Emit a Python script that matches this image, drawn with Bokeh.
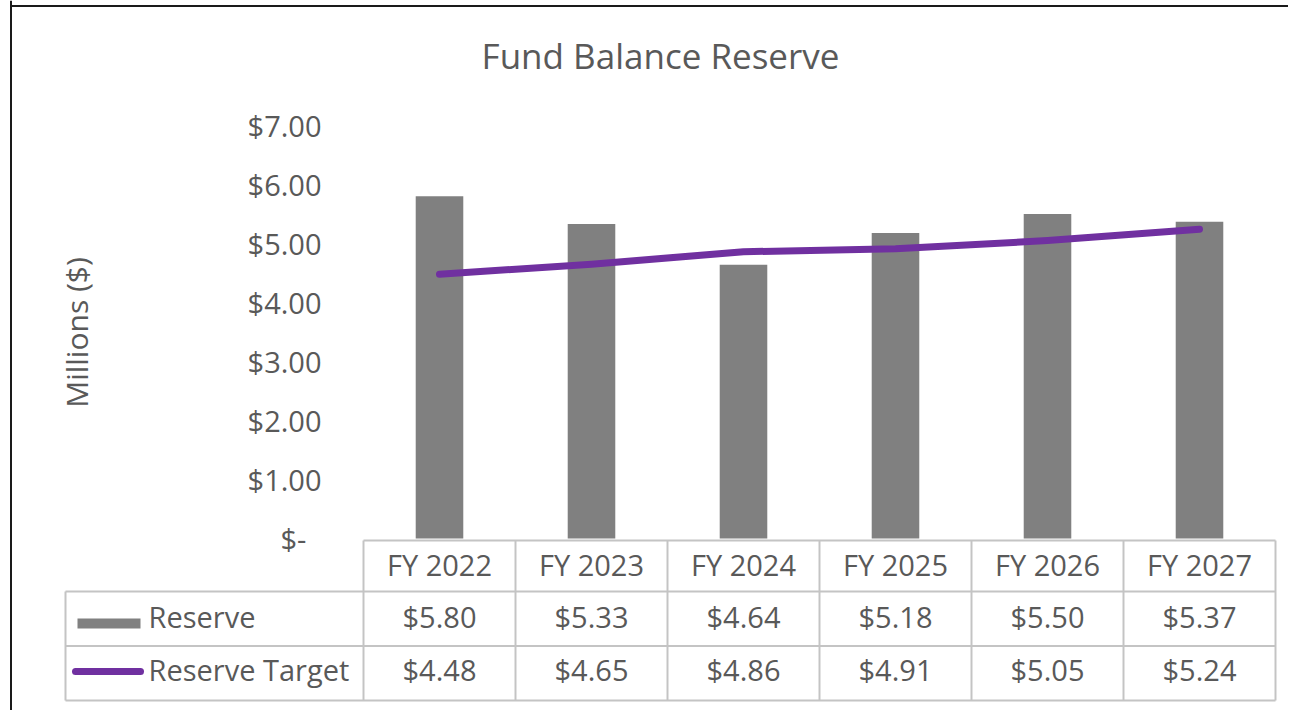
import math
from bokeh.plotting import figure
from bokeh.models import (Range1d, LinearAxis, FixedTicker, NumeralTickFormatter,
                          Span, ColumnDataSource)
from bokeh.core.properties import value
from bokeh.embed import file_html
from bokeh.resources import INLINE

# ---------------- data ----------------
categories = ["FY 2022", "FY 2023", "FY 2024", "FY 2025", "FY 2026", "FY 2027"]
reserve = [5.80, 5.33, 4.64, 5.18, 5.50, 5.37]
reserve_target = [4.48, 4.65, 4.86, 4.91, 5.05, 5.24]
series_names = ["Reserve", "Reserve Target"]
y_ticks = [0, 1, 2, 3, 4, 5, 6, 7]
chart_title = "Fund Balance Reserve"
y_title = "Millions ($)"

# ---------------- layout (page pixels) ----------------
W, H = 1288, 710
PX0, PY0 = 0, 0            # where the figure lands on the page
COL_X0, COL_W = 363, 152   # first category column left edge / width
ZERO_Y, UNIT_PX = 538, 59  # y pixel of value 0 / pixels per unit

def X(px):
    return (px - COL_X0) / COL_W

def Y(py):
    return (ZERO_Y - py) / UNIT_PX

FONT = value("Open Sans")
TXT = "#595959"
GRID = "#c4c4c4"
BAR = "#808080"
PURPLE = "#7030a0"

p = figure(width=W, height=H, output_backend="svg", toolbar_location=None,
           x_range=Range1d(X(PX0), X(PX0 + W)),
           y_range=Range1d(Y(PY0 + H), Y(PY0)),
           x_axis_type=None, y_axis_type=None, min_border=0,
           outline_line_color=None, background_fill_color="white",
           border_fill_color="white")

# y axis drawn at the left edge of the category columns
yaxis = LinearAxis(fixed_location=0, ticker=FixedTicker(ticks=y_ticks),
                   formatter=NumeralTickFormatter(format="$0.00"),
                   major_label_overrides={0: "$-\u00a0\u00a0"},
                   axis_line_color=None, major_tick_line_color=None,
                   minor_tick_line_color=None, major_tick_out=0, major_tick_in=0,
                   major_label_standoff=42,
                   major_label_text_font="Open Sans",
                   major_label_text_font_size="29px",
                   major_label_text_color=TXT)
p.add_layout(yaxis, "left")

n = len(categories)
xs = [i + 0.5 for i in range(n)]
src = ColumnDataSource(dict(
    x=xs, cat=categories, reserve=reserve, target=reserve_target,
    r_lbl=["${:.2f}".format(v) for v in reserve],
    t_lbl=["${:.2f}".format(v) for v in reserve_target],
))

# bars and target line
p.vbar(x="x", top="reserve", bottom=0, width=0.313, source=src,
       fill_color=BAR, line_color=None)
p.line(x="x", y="target", source=src, line_color=PURPLE, line_width=7,
       line_cap="round", line_join="round")

# ---------------- data table ----------------
LEG_X = X(65)
y_head_top, y_head_bot = Y(540), Y(591)
y_r1_bot, y_r2_bot = Y(645.5), Y(700)

x0s, y0s, x1s, y1s = [], [], [], []
# horizontal
x0s += [0, LEG_X, LEG_X, LEG_X]
x1s += [n, n, n, n]
y0s += [y_head_top, y_head_bot, y_r1_bot, y_r2_bot]
y1s += [y_head_top, y_head_bot, y_r1_bot, y_r2_bot]
# vertical
x0s.append(LEG_X); x1s.append(LEG_X); y0s.append(y_head_bot); y1s.append(y_r2_bot)
for k in range(n + 1):
    x0s.append(k); x1s.append(k); y0s.append(y_head_top); y1s.append(y_r2_bot)
p.segment(x0=x0s, y0=y0s, x1=x1s, y1=y1s, line_color=GRID, line_width=2)

text_kw = dict(text_font=FONT, text_font_size="29px", text_color=TXT,
               text_baseline="middle")
p.text(x="x", y=Y(564), text="cat", source=src, text_align="center", **text_kw)
p.text(x="x", y=Y(616), text="r_lbl", source=src, text_align="center", **text_kw)
p.text(x="x", y=Y(669), text="t_lbl", source=src, text_align="center", **text_kw)
p.text(x=[X(148), X(148)], y=[Y(616), Y(669)], text=series_names,
       text_align="left", **text_kw)

# legend keys inside the table
p.quad(left=[X(77)], right=[X(140)], bottom=[Y(628)], top=[Y(618)],
       fill_color=BAR, line_color=None)
p.segment(x0=[X(75)], y0=[Y(671)], x1=[X(140)], y1=[Y(671)],
          line_color=PURPLE, line_width=7, line_cap="round")

# ---------------- titles ----------------
p.text(x=[X(660)], y=[Y(55)], text=[chart_title], text_font=FONT,
       text_font_size="35px", text_color=TXT, text_align="center",
       text_baseline="middle")
p.text(x=[X(76)], y=[Y(332)], text=[y_title], angle=math.pi / 2,
       text_font=FONT, text_font_size="30px", text_color=TXT,
       text_align="center", text_baseline="middle")

# chart border (left and top visible in the reference)
p.add_layout(Span(location=X(10.5), dimension="height", line_color="#1a1a1a", line_width=2))
p.segment(x0=[X(9.5)], y0=[Y(5.5)], x1=[X(PX0 + W)], y1=[Y(5.5)],
          line_color="#1a1a1a", line_width=2)

open("out.html", "w").write(file_html(p, INLINE))
